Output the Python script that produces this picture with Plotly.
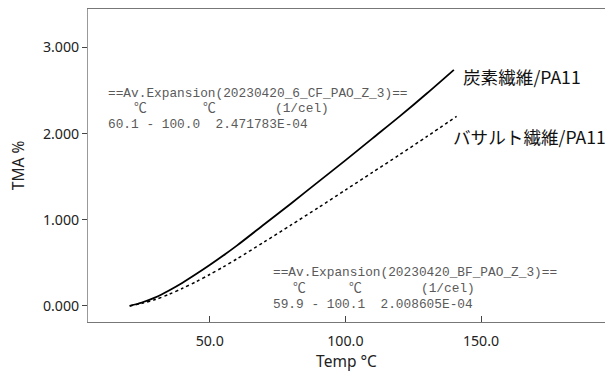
import plotly.graph_objects as go

# ---- data ----
temp_cf = [20.5, 25, 30, 35, 40, 45, 50, 55, 60, 70, 80, 90, 100, 110, 120, 130, 140]
tma_cf = [0.00, 0.04, 0.10, 0.18, 0.27, 0.37, 0.475, 0.585, 0.70, 0.945, 1.19, 1.44, 1.69,
          1.945, 2.20, 2.465, 2.74]

temp_bf = [20.5, 25, 30, 35, 40, 45, 50, 55, 60, 70, 80, 90, 100, 110, 120, 130, 141]
tma_bf = [0.00, 0.03, 0.075, 0.135, 0.205, 0.282, 0.365, 0.453, 0.546, 0.741, 0.94, 1.14,
          1.345, 1.55, 1.755, 1.965, 2.20]

series_names = ["炭素繊維/PA11", "バサルト繊維/PA11"]
x_ticks = [50, 100, 150]
y_ticks = [0, 1, 2, 3]

cf_lines = ["==Av.Expansion(20230420_6_CF_PAO_Z_3)==", "℃", "℃", "(1/cel)",
            "60.1 - 100.0  2.471783E-04"]
bf_lines = ["==Av.Expansion(20230420_BF_PAO_Z_3)==", "℃", "℃", "(1/cel)",
            "59.9 - 100.1  2.008605E-04"]

# ---- layout geometry ----
W, H = 605, 372
L, R, T, B = 88, 0, 9, 50
PW, PH = W - L - R, H - T - B


def px(x):
    return (x - L) / PW


def py(y):
    return (H - B - y) / PH


fig = go.Figure()
fig.add_trace(go.Scatter(x=temp_cf, y=tma_cf, mode="lines", name=series_names[0],
                         line=dict(color="#000000", width=1.8, shape="spline", smoothing=0.8)))
fig.add_trace(go.Scatter(x=temp_bf, y=tma_bf, mode="lines", name=series_names[1],
                         line=dict(color="#000000", width=1.5, dash="dot", shape="spline",
                                   smoothing=0.8)))

mono = dict(family="Liberation Mono, Noto Sans CJK JP", size=12.8, color="#5a5a5a")
annos = []


def block(lines, left, ys, deg1, deg2, cel):
    annos.append(dict(text=lines[0], x=px(left), y=py(ys[0])))
    annos.append(dict(text=lines[1], x=px(deg1), y=py(ys[1])))
    annos.append(dict(text=lines[2], x=px(deg2), y=py(ys[1])))
    annos.append(dict(text=lines[3], x=px(cel), y=py(ys[1])))
    annos.append(dict(text=lines[4], x=px(left), y=py(ys[2])))


block(cf_lines, 106, (94, 108.5, 124.5), 132, 201, 273)
block(bf_lines, 271, (272, 288, 304), 291, 347, 419)

final = []
for a in annos:
    a.update(xref="paper", yref="paper", xanchor="left", yanchor="middle",
             showarrow=False, font=mono)
    final.append(a)

jp_font = dict(family="Noto Sans CJK JP", size=17.6, color="#111111")
final.append(dict(text=series_names[0], x=px(461), y=py(76), xref="paper", yref="paper",
                  xanchor="left", yanchor="middle", showarrow=False, font=jp_font))
final.append(dict(text=series_names[1], x=px(451), y=py(136), xref="paper", yref="paper",
                  xanchor="left", yanchor="middle", showarrow=False, font=jp_font))

axis_font = dict(family="Noto Sans, Noto Sans CJK JP", size=14.2, color="#222222")
title_font = dict(family="Noto Sans, Noto Sans CJK JP", size=15.5, color="#222222")

fig.update_layout(
    width=W, height=H,
    margin=dict(l=L, r=R, t=T, b=B, pad=0),
    paper_bgcolor="white", plot_bgcolor="white",
    showlegend=False,
    annotations=final,
    font=axis_font,
    xaxis=dict(range=[5.14, 195.7], tickvals=x_ticks, tickformat=".1f",
               ticks="inside", ticklen=6, tickcolor="#444", tickwidth=1,
               showline=True, linecolor="#777", linewidth=1, mirror=True,
               showgrid=False, zeroline=False, ticklabelstandoff=6,
               title=dict(text="Temp °C", font=title_font, standoff=2),
               tickfont=axis_font),
    yaxis=dict(range=[-0.186, 3.446], tickvals=y_ticks, tickformat=".3f",
               ticks="outside", ticklen=5, tickcolor="#444", tickwidth=1,
               showline=True, linecolor="#999", linewidth=1,
               showgrid=False, zeroline=False,
               title=dict(text="TMA %", font=title_font, standoff=14),
               tickfont=axis_font),
)

fig.write_html("out.html")
